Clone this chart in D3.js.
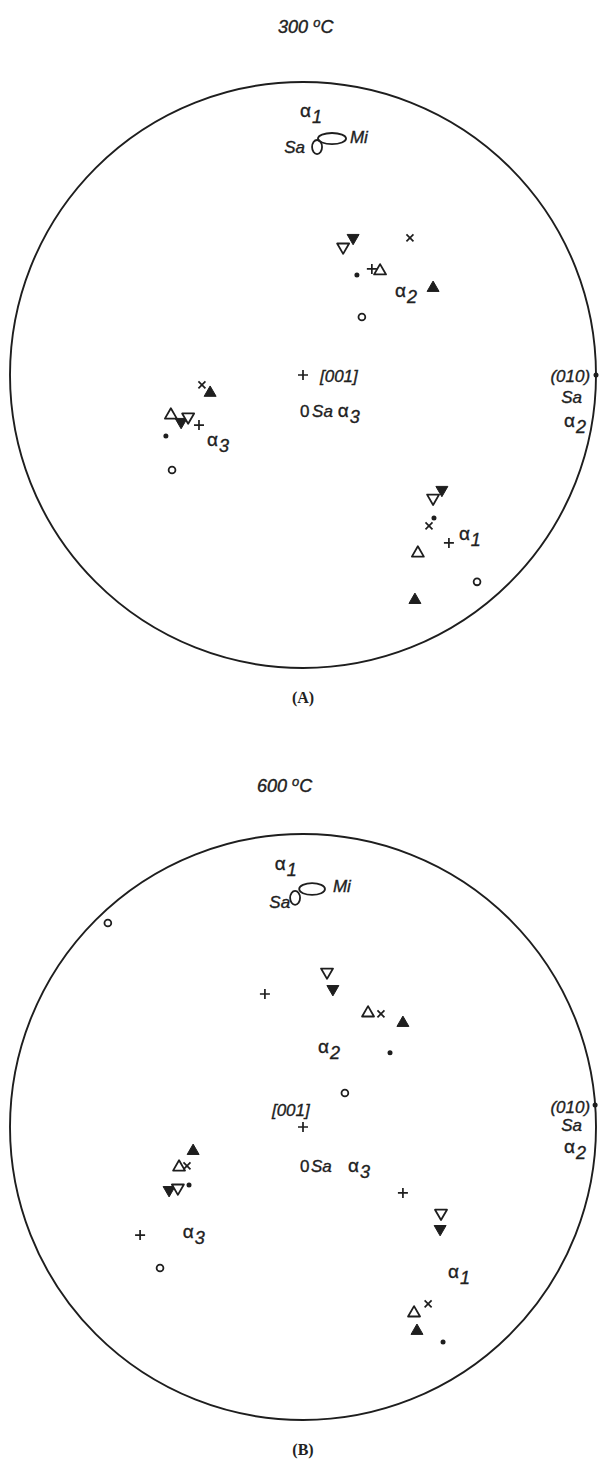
<!DOCTYPE html>
<html>
<head>
<meta charset="utf-8">
<script src="https://cdn.jsdelivr.net/npm/d3@7"></script>
<style>
  body { margin: 0; background: #fff; }
  svg { display: block; }
  text { fill: #222; }
</style>
</head>
<body>
<svg id="chart" width="602" height="1466"></svg>
<script>
// symbol codes: o open circle, dot filled dot, + plus, x cross,
// tri open up-triangle, triF filled up-triangle, inv open down-triangle, invF filled down-triangle
// coordinates are projection units (-1..1), y up

// panel A, 300 °C
var pointsA = [
  {s: "invF", x: 0.171, y: 0.468}, {s: "inv", x: 0.137, y: 0.437},
  {s: "x", x: 0.365, y: 0.468}, {s: "dot", x: 0.184, y: 0.341},
  {s: "+", x: 0.235, y: 0.362}, {s: "tri", x: 0.263, y: 0.355},
  {s: "triF", x: 0.444, y: 0.297}, {s: "o", x: 0.201, y: 0.198},
  {s: "x", x: -0.345, y: -0.034}, {s: "triF", x: -0.317, y: -0.061},
  {s: "tri", x: -0.451, y: -0.137}, {s: "invF", x: -0.416, y: -0.160},
  {s: "inv", x: -0.392, y: -0.143}, {s: "+", x: -0.355, y: -0.171},
  {s: "dot", x: -0.468, y: -0.208}, {s: "o", x: -0.447, y: -0.324},
  {s: "invF", x: 0.474, y: -0.392}, {s: "inv", x: 0.444, y: -0.420},
  {s: "dot", x: 0.447, y: -0.488}, {s: "x", x: 0.430, y: -0.515},
  {s: "+", x: 0.498, y: -0.573}, {s: "tri", x: 0.392, y: -0.608},
  {s: "o", x: 0.594, y: -0.706}, {s: "triF", x: 0.382, y: -0.768},
  {s: "+", x: 0, y: 0}, {s: "dot", x: 1, y: 0}
];
var ellipsesA = [
  {x: 0.048, y: 0.778, rx: 0.017, ry: 0.024},
  {x: 0.099, y: 0.807, rx: 0.048, ry: 0.019}
];
var labelsA = [
  {t: "α", sub: "1", x: -0.010, y: 0.881},
  {t: "Sa", x: 0.007, y: 0.758, end: true},
  {t: "Mi", x: 0.160, y: 0.792},
  {t: "[001]", x: 0.058, y: -0.024},
  {t: "0", x: -0.010, y: -0.143, up: true},
  {t: "Sa", x: 0.031, y: -0.143},
  {t: "α", sub: "3", x: 0.119, y: -0.143},
  {t: "α", sub: "2", x: 0.314, y: 0.266},
  {t: "α", sub: "3", x: -0.328, y: -0.242},
  {t: "α", sub: "1", x: 0.532, y: -0.563},
  {t: "(010)", x: 0.980, y: -0.024, end: true},
  {t: "Sa", x: 0.952, y: -0.096, end: true},
  {t: "α", sub: "2", x: 0.891, y: -0.177}
];

// panel B, 600 °C
var pointsB = [
  {s: "o", x: -0.666, y: 0.696}, {s: "+", x: -0.130, y: 0.454},
  {s: "inv", x: 0.082, y: 0.529}, {s: "invF", x: 0.102, y: 0.471},
  {s: "tri", x: 0.222, y: 0.389}, {s: "x", x: 0.266, y: 0.386},
  {s: "triF", x: 0.341, y: 0.355}, {s: "dot", x: 0.297, y: 0.253},
  {s: "o", x: 0.143, y: 0.116}, {s: "+", x: 0, y: 0},
  {s: "triF", x: -0.375, y: -0.082}, {s: "tri", x: -0.423, y: -0.137},
  {s: "x", x: -0.396, y: -0.133}, {s: "invF", x: -0.457, y: -0.215},
  {s: "inv", x: -0.427, y: -0.208}, {s: "dot", x: -0.389, y: -0.198},
  {s: "+", x: -0.556, y: -0.369}, {s: "o", x: -0.488, y: -0.481},
  {s: "+", x: 0.341, y: -0.225}, {s: "inv", x: 0.471, y: -0.294},
  {s: "invF", x: 0.468, y: -0.348}, {s: "tri", x: 0.379, y: -0.635},
  {s: "x", x: 0.427, y: -0.604}, {s: "triF", x: 0.389, y: -0.696},
  {s: "dot", x: 0.478, y: -0.734}, {s: "dot", x: 0.997, y: 0.075}
];
var ellipsesB = [
  {x: -0.027, y: 0.782, rx: 0.017, ry: 0.024},
  {x: 0.031, y: 0.812, rx: 0.044, ry: 0.020}
];
var labelsB = [
  {t: "α", sub: "1", x: -0.096, y: 0.877},
  {t: "Sa", x: -0.044, y: 0.747, end: true},
  {t: "Mi", x: 0.102, y: 0.802},
  {t: "α", sub: "2", x: 0.051, y: 0.253},
  {t: "[001]", x: -0.106, y: 0.038},
  {t: "0", x: -0.010, y: -0.154, up: true},
  {t: "Sa", x: 0.027, y: -0.154},
  {t: "α", sub: "3", x: 0.154, y: -0.154},
  {t: "α", sub: "3", x: -0.410, y: -0.379},
  {t: "α", sub: "1", x: 0.495, y: -0.515},
  {t: "(010)", x: 0.980, y: 0.048, end: true},
  {t: "Sa", x: 0.952, y: -0.014, end: true},
  {t: "α", sub: "2", x: 0.891, y: -0.089}
];

var panelTitles = ["300 °C", "600 °C"];
var panelCaptions = ["(A)", "(B)"];
var titlePos = [{x: -0.085, y: 1.167}, {x: -0.157, y: 1.143}];
var captionY = -1.119;

var panels = [
  {cx: 303, cy: 375, r: 293, points: pointsA, ellipses: ellipsesA, labels: labelsA},
  {cx: 303, cy: 1127, r: 293, points: pointsB, ellipses: ellipsesB, labels: labelsB}
];

var svg = d3.select("#chart");
var ink = "#1e1e1e";

function drawPanel(p, i) {
  var x = d3.scaleLinear().domain([-1, 1]).range([p.cx - p.r, p.cx + p.r]);
  var y = d3.scaleLinear().domain([-1, 1]).range([p.cy + p.r, p.cy - p.r]);
  var k = p.r; // projection unit -> px for ellipse radii
  var g = svg.append("g").attr("class", "panel");

  // primitive circle
  g.append("circle")
    .attr("cx", x(0)).attr("cy", y(0)).attr("r", x(1) - x(0))
    .style("fill", "none").style("stroke", ink).style("stroke-width", 1.9);

  // Sa / Mi ellipses
  g.selectAll("ellipse").data(p.ellipses).enter().append("ellipse")
    .attr("cx", function (d) { return x(d.x); })
    .attr("cy", function (d) { return y(d.y); })
    .attr("rx", function (d) { return d.rx * k; })
    .attr("ry", function (d) { return d.ry * k; })
    .style("fill", "none").style("stroke", ink).style("stroke-width", 1.8);

  // markers
  var tri = d3.symbol().type(d3.symbolTriangle).size(62);
  var m = g.selectAll("g.mark").data(p.points).enter().append("g")
    .attr("class", "mark")
    .attr("transform", function (d) { return "translate(" + x(d.x) + "," + y(d.y) + ")"; });
  m.each(function (d) {
    var el = d3.select(this);
    if (d.s === "o") {
      el.append("circle").attr("r", 3.4).style("fill", "none").style("stroke", ink).style("stroke-width", 1.8);
    } else if (d.s === "dot") {
      el.append("circle").attr("r", 2.5).style("fill", ink);
    } else if (d.s === "+") {
      el.append("path").attr("d", "M-5,0H5M0,-5V5")
        .style("stroke", ink).style("stroke-width", 1.7);
    } else if (d.s === "x") {
      el.append("path").attr("d", "M-3.5,-3.5L3.5,3.5M-3.5,3.5L3.5,-3.5")
        .style("stroke", ink).style("stroke-width", 1.7);
    } else {
      var filled = d.s === "triF" || d.s === "invF";
      var down = d.s === "inv" || d.s === "invF";
      el.append("path").attr("d", tri())
        .attr("transform", down ? "rotate(180)" : null)
        .style("fill", filled ? ink : "#fff")
        .style("stroke", ink).style("stroke-width", filled ? 1 : 1.8)
        .style("stroke-linejoin", "round");
    }
  });

  // labels
  var lab = g.selectAll("text.lab").data(p.labels).enter().append("text")
    .attr("class", "lab")
    .attr("x", function (d) { return x(d.x); })
    .attr("y", function (d) { return y(d.y); })
    .attr("text-anchor", function (d) { return d.end ? "end" : "start"; })
    .style("font-family", "'Liberation Sans', Arial, sans-serif")
    .style("font-size", "17px")
    .style("stroke", ink).style("stroke-width", 0.35)
    .style("font-style", function (d) { return d.up ? "normal" : "italic"; });
  lab.append("tspan").text(function (d) { return d.t; })
    .style("font-style", function (d) { return d.t === "α" ? "normal" : null; })
    .style("font-size", function (d) { return d.t === "α" ? "19px" : null; });
  lab.filter(function (d) { return d.sub; }).append("tspan")
    .attr("dx", 1).attr("dy", 6)
    .style("font-size", "18px")
    .text(function (d) { return d.sub; });

  // title
  var t = g.append("text")
    .attr("x", x(titlePos[i].x)).attr("y", y(titlePos[i].y))
    .style("font-family", "'Liberation Sans', Arial, sans-serif")
    .style("font-size", "18px").style("font-style", "italic")
    .style("stroke", ink).style("stroke-width", 0.4);
  var parts = panelTitles[i].split(" °");
  t.append("tspan").text(parts[0] + " ");
  t.append("tspan").attr("dy", -6).style("font-size", "13px").text("o");
  t.append("tspan").attr("dy", 6).text(parts[1]);

  // caption
  g.append("text")
    .attr("x", x(0)).attr("y", y(captionY))
    .attr("text-anchor", "middle")
    .style("font-family", "'Liberation Serif', 'Times New Roman', serif")
    .style("font-size", "16px").style("font-weight", "bold")
    .text(panelCaptions[i]);
}

panels.forEach(drawPanel);
</script>
</body>
</html>
